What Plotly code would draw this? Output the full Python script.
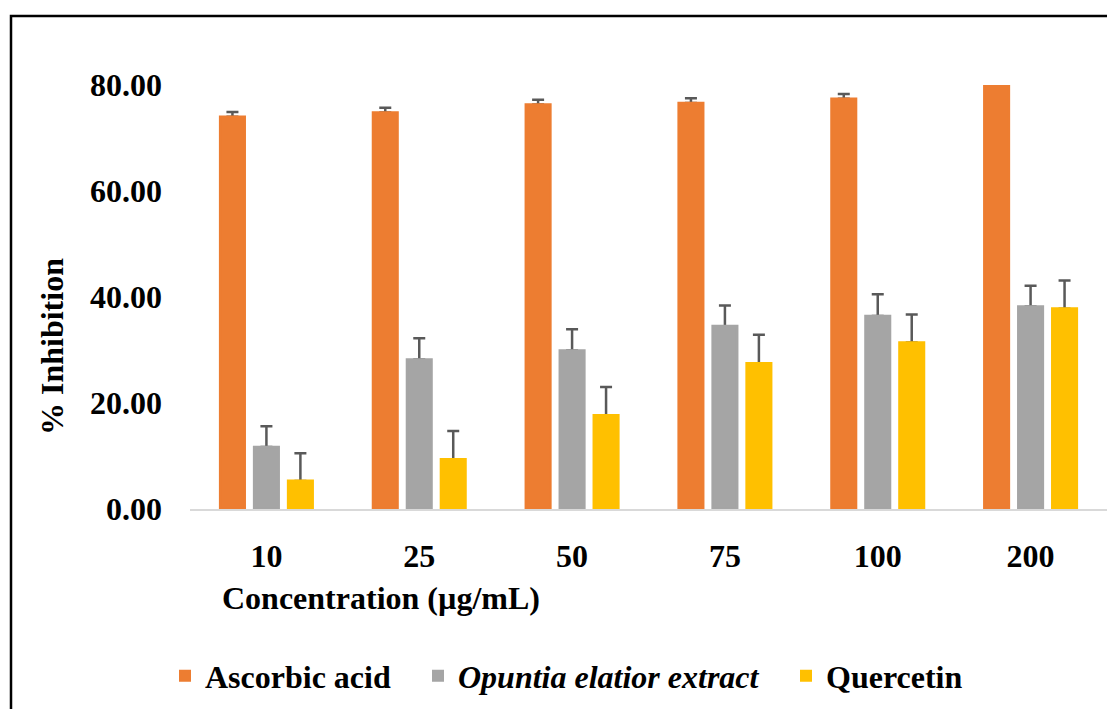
import plotly.graph_objects as go

concentrations = ["10", "25", "50", "75", "100", "200"]
ascorbic = [74.0, 74.8, 76.3, 76.6, 77.4, 81.0]
ascorbic_err = [0.9, 0.9, 0.9, 0.9, 0.9, 0.9]
opuntia = [11.7, 28.2, 29.9, 34.5, 36.4, 38.2]
opuntia_err = [3.9, 4.0, 4.0, 3.9, 4.1, 3.9]
quercetin = [5.3, 9.4, 17.7, 27.5, 31.4, 37.8]
quercetin_err = [5.2, 5.3, 5.3, 5.4, 5.3, 5.3]

FONT = "Liberation Serif"
FS = 32
W, H = 1107, 709
ML, MR, MT, MB = 190, 0, 85, 200
PW = W - ML - MR
PH = H - MT - MB

def px_x(px):
    return (px - ML) / PW

def px_y(py):
    return (H - MB - py) / PH

series = [
    ("Ascorbic acid", ascorbic, ascorbic_err, "#ED7D31", "legend", 177, "g1"),
    ("<i>Opuntia elatior extract</i>", opuntia, opuntia_err, "#A5A5A5", "legend2", 430, "g2"),
    ("Quercetin", quercetin, quercetin_err, "#FFC000", "legend3", 798, "g3"),
]

fig = go.Figure()
for name, vals, errs, color, leg, _, grp in series:
    fig.add_trace(go.Bar(
        x=concentrations, y=vals, name=name, marker=dict(color=color, line=dict(width=0)),
        error_y=dict(type="data", array=errs, arrayminus=[0] * len(errs), symmetric=False,
                     color="#595959", thickness=2.5, width=6),
        legend=leg, offsetgroup=grp,
    ))
# same bars again on top (no error bars) so only the upward whisker shows
for name, vals, errs, color, leg, _, grp in series:
    fig.add_trace(go.Bar(
        x=concentrations, y=vals, name=name,
        marker=dict(color=color, line=dict(width=2.6, color=color)),
        showlegend=False, offsetgroup=grp, hoverinfo="skip",
    ))

legend_common = dict(orientation="h", yanchor="middle", xanchor="left",
                     font=dict(family=FONT, size=FS, color="black", weight="bold"),
                     bgcolor="rgba(0,0,0,0)")
layout_legends = {}
for name, vals, errs, color, leg, sx, grp in series:
    layout_legends[leg] = dict(legend_common, x=px_x(sx - 12), y=px_y(676))

fig.update_layout(
    width=W, height=H,
    margin=dict(l=ML, r=MR, t=MT, b=MB, pad=0),
    paper_bgcolor="white", plot_bgcolor="white",
    barmode="group", bargap=0.333, bargroupgap=0.28,
    font=dict(family=FONT, size=FS, color="black", weight="bold"),
    showlegend=True,
    **layout_legends,
)
fig.update_xaxes(type="category", showgrid=False, showline=True, linecolor="#D9D9D9",
                 linewidth=2, ticks="", ticklabelstandoff=18,
                 tickfont=dict(family=FONT, size=FS, color="black", weight="bold"))
fig.update_yaxes(range=[0, 80], dtick=20, tickformat=".2f", showgrid=False, showline=False,
                 zeroline=False, ticks="", ticklabelstandoff=27,
                 tickfont=dict(family=FONT, size=FS, color="black", weight="bold"))

fig.add_annotation(text="Concentration (µg/mL)", xref="paper", yref="paper",
                   x=px_x(381), y=px_y(598), xanchor="center", yanchor="middle",
                   showarrow=False, font=dict(family=FONT, size=FS, color="black", weight="bold"))
fig.add_annotation(text="% Inhibition", xref="paper", yref="paper", textangle=-90,
                   x=px_x(52), y=px_y(347), xanchor="center", yanchor="middle",
                   showarrow=False, font=dict(family=FONT, size=FS, color="black", weight="bold"))

fig.add_shape(type="rect", xref="paper", yref="paper",
              x0=px_x(11), x1=px_x(1130), y0=px_y(740), y1=px_y(16),
              line=dict(color="black", width=2.5), fillcolor="rgba(0,0,0,0)", layer="above")

fig.write_html("out.html", config={"displayModeBar": False},
               post_script="document.body.style.margin='0';document.body.style.overflow='hidden';")
